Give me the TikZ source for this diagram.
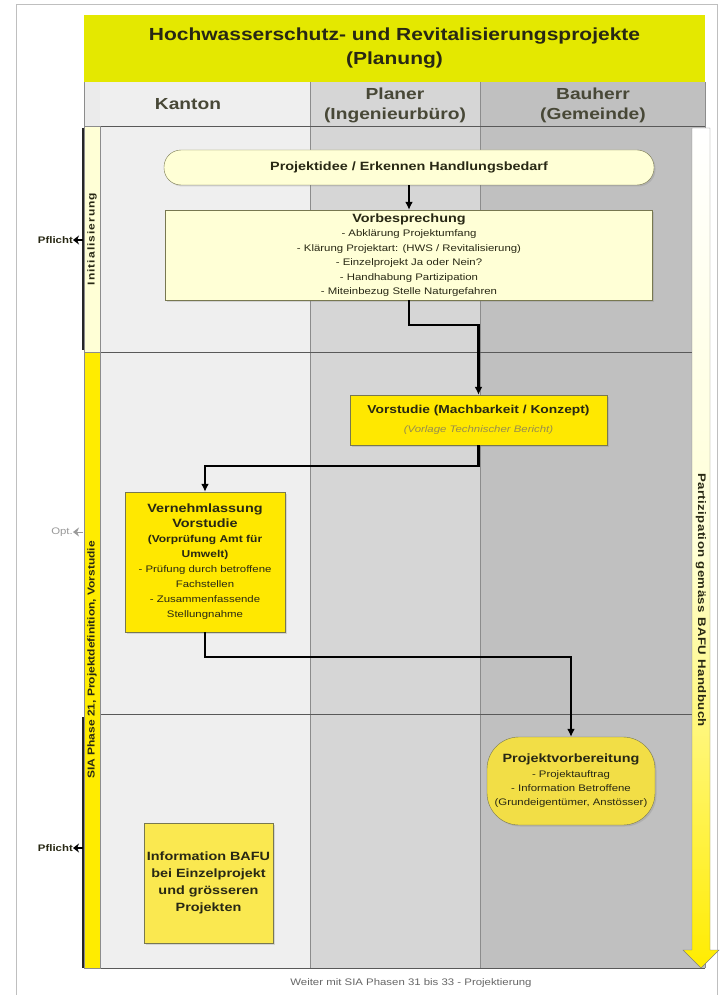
\documentclass[tikz,border=0pt]{standalone}
\usepackage{fontspec}
\setmainfont[FakeStretch=1.2]{Liberation Sans}
\usetikzlibrary{arrows.meta,calc,shadows}
\definecolor{titleyellow}{RGB}{228,232,0}
\definecolor{laneA}{RGB}{239,239,239}
\definecolor{laneB}{RGB}{214,214,214}
\definecolor{laneC}{RGB}{192,192,192}
\definecolor{paleyellow}{RGB}{255,255,214}
\definecolor{phaseyellow}{RGB}{255,236,0}
\definecolor{boxyellow}{RGB}{255,232,0}
\definecolor{softyellow}{RGB}{242,222,70}
\definecolor{infoyellow}{RGB}{250,232,80}
\definecolor{ink}{RGB}{40,40,20}
\definecolor{rim}{RGB}{120,120,80}
\definecolor{remark}{RGB}{150,140,80}
\tikzstyle{titlebar} = [rectangle, fill=titleyellow, inner sep=0pt, align=center, font=\bfseries\fontsize{17.5}{24}\selectfont]
\tikzstyle{lanehead} = [align=center, inner sep=0pt, font=\bfseries\fontsize{16}{20}\selectfont, text=ink!85]
\tikzstyle{band} = [rectangle, draw=black!45, rotate=90, inner sep=0pt, minimum height=16pt, font=\bfseries\fontsize{10}{12}\selectfont]
\tikzstyle{terminator} = [rectangle, draw=rim, fill=paleyellow, rounded corners=17pt, text centered, inner sep=0pt, drop shadow={shadow xshift=1.5pt, shadow yshift=-1.5pt, opacity=0.25}]
\tikzstyle{process} = [rectangle, draw=rim, text centered, align=center, inner sep=0pt, drop shadow={shadow xshift=1.5pt, shadow yshift=-1.5pt, opacity=0.25}]
\tikzstyle{connector} = [line width=2.3pt, -{Latex[length=8pt,width=8pt]}]
\tikzstyle{bracket} = [line width=1.2pt, black!85]
\tikzstyle{tick} = [line width=1.2pt, -{Stealth[length=6pt,width=9pt]}]
\tikzstyle{sidenote} = [anchor=east, inner sep=0pt, font=\bfseries\fontsize{9.5}{11}\selectfont]

\begin{document}
\begin{tikzpicture}[x=1pt, y=-1pt, every node/.style={text=ink}]
    \useasboundingbox (0,0) rectangle (722,995);
    \fill[white] (0,0) rectangle (722,995);
    \draw[black!25] (16,995) -- (16,4) -- (717,4) -- (717,995);
    % lanes
    \fill[laneA] (100,82) rectangle (310,968);
    \fill[laneB] (310,82) rectangle (480,968);
    \fill[laneC] (480,82) rectangle (705,968);
    \fill[black!8] (84,82) rectangle (100,126);
    \draw[black!45] (310,82) -- (310,968) (480,82) -- (480,968) (84,82) -- (84,126) (705,82) -- (705,968);
    \draw[black!65] (84,126) -- (705,126) (100,352) -- (705,352) (100,714) -- (705,714) (84,968) -- (705,968);
    \node (title) [titlebar, minimum width=621pt, minimum height=67pt] at (394.5,48.5) {Hochwasserschutz- und Revitalisierungsprojekte\\(Planung)};
    \node (kanton) [lanehead] at (188,104) {Kanton};
    \node (planer) [lanehead] at (395,105) {Planer\\(Ingenieurbüro)};
    \node (bauherr) [lanehead] at (593,105) {Bauherr\\(Gemeinde)};
    % phases
    \node (initband) [band, fill=paleyellow, minimum width=226pt] at (92,239) {\addfontfeature{LetterSpace=10}Initialisierung};
    \node (siaband) [band, fill=phaseyellow, minimum width=616pt] at (92,660) {SIA Phase 21, Projektdefinition, Vorstudie};
    \draw[bracket] (83,128) -- (83,350);
    \draw[bracket] (83,717) -- (83,968);
    \coordinate (initmid) at (83,240);
    \coordinate (optmid) at (83,532);
    \coordinate (siamid) at (83,848);
    \node (pflichtA) [sidenote] at (73,240) {Pflicht};
    \node (opt) [sidenote, text=black!40, font=\fontsize{9.5}{11}\selectfont] at (73,532) {Opt.};
    \node (pflichtB) [sidenote] at (73,848) {Pflicht};
    \draw[tick] (initmid) -- (pflichtA.east);
    \draw[tick, black!40, line width=0.8pt] (optmid) -- (opt.east);
    \draw[tick] (siamid) -- (pflichtB.east);
    % participation arrow
    \shade[top color=white, bottom color=phaseyellow, middle color=paleyellow, draw=black!50]
        (692,128) -- (710,128) -- (710,950) -- (719,950) -- (701,968) -- (683,950) -- (692,950) -- cycle;
    \node (partizipation) [rotate=-90, font=\bfseries\fontsize{11}{12}\selectfont] at (701,600) {\addfontfeature{LetterSpace=4}Partizipation gemäss BAFU Handbuch};
    % steps
    \node (idee) [terminator, minimum width=490pt, minimum height=35pt, font=\bfseries\fontsize{12}{14}\selectfont] at (409,167.5) {Projektidee / Erkennen Handlungsbedarf};
    \node (vorbespr) [process, fill=paleyellow, minimum width=487pt, minimum height=90pt, font=\fontsize{9.5}{14.5}\selectfont] at (409,255) {
        {\bfseries\fontsize{12}{14.5}\selectfont Vorbesprechung}\\
        - Abklärung Projektumfang\\
        - Klärung Projektart: (HWS / Revitalisierung)\\
        - Einzelprojekt Ja oder Nein?\\
        - Handhabung Partizipation\\
        - Miteinbezug Stelle Naturgefahren
    };
    \node (vorstudie) [process, fill=boxyellow, minimum width=257pt, minimum height=50pt, font=\fontsize{9.5}{19}\selectfont] at (478.5,420) {
        {\bfseries\fontsize{11.5}{19}\selectfont Vorstudie (Machbarkeit / Konzept)}\\
        {\itshape\color{remark}(Vorlage Technischer Bericht)}
    };
    \node (vernehm) [process, fill=boxyellow, minimum width=160pt, minimum height=140pt, font=\fontsize{9.5}{15}\selectfont] at (205,562) {
        {\bfseries\fontsize{12}{15}\selectfont Vernehmlassung}\\
        {\bfseries\fontsize{12}{15}\selectfont Vorstudie}\\
        {\bfseries\fontsize{10}{15}\selectfont (Vorprüfung Amt für}\\
        {\bfseries\fontsize{10}{15}\selectfont Umwelt)}\\
        - Prüfung durch betroffene\\
        Fachstellen\\
        - Zusammenfassende\\
        Stellungnahme
    };
    \node (projvorb) [process, rounded corners=32pt, fill=softyellow, minimum width=168pt, minimum height=88pt, font=\fontsize{9.5}{14.3}\selectfont] at (571,781) {
        {\bfseries\fontsize{12}{14.3}\selectfont Projektvorbereitung}\\
        - Projektauftrag\\
        - Information Betroffene\\
        (Grundeigentümer, Anstösser)
    };
    \node (infobafu) [process, fill=infoyellow, minimum width=129pt, minimum height=120pt, font=\bfseries\fontsize{12}{17}\selectfont] at (208.5,883) {
        Information BAFU\\
        bei Einzelprojekt\\
        und grösseren\\
        Projekten
    };
    \node (weiter) [font=\fontsize{9.5}{11}\selectfont, text=black!60] at (411,983) {Weiter mit SIA Phasen 31 bis 33 - Projektierung};
    \draw [connector] (idee) -- (vorbespr);
    \draw [connector] (vorbespr.south) -- ++(0,25) -| (vorstudie.north);
    \draw [connector] (vorstudie.south) -- ++(0,21) -| (vernehm.north);
    \draw [connector] (vernehm.south) -- ++(0,25) -| (projvorb.north);
\end{tikzpicture}
\end{document}
